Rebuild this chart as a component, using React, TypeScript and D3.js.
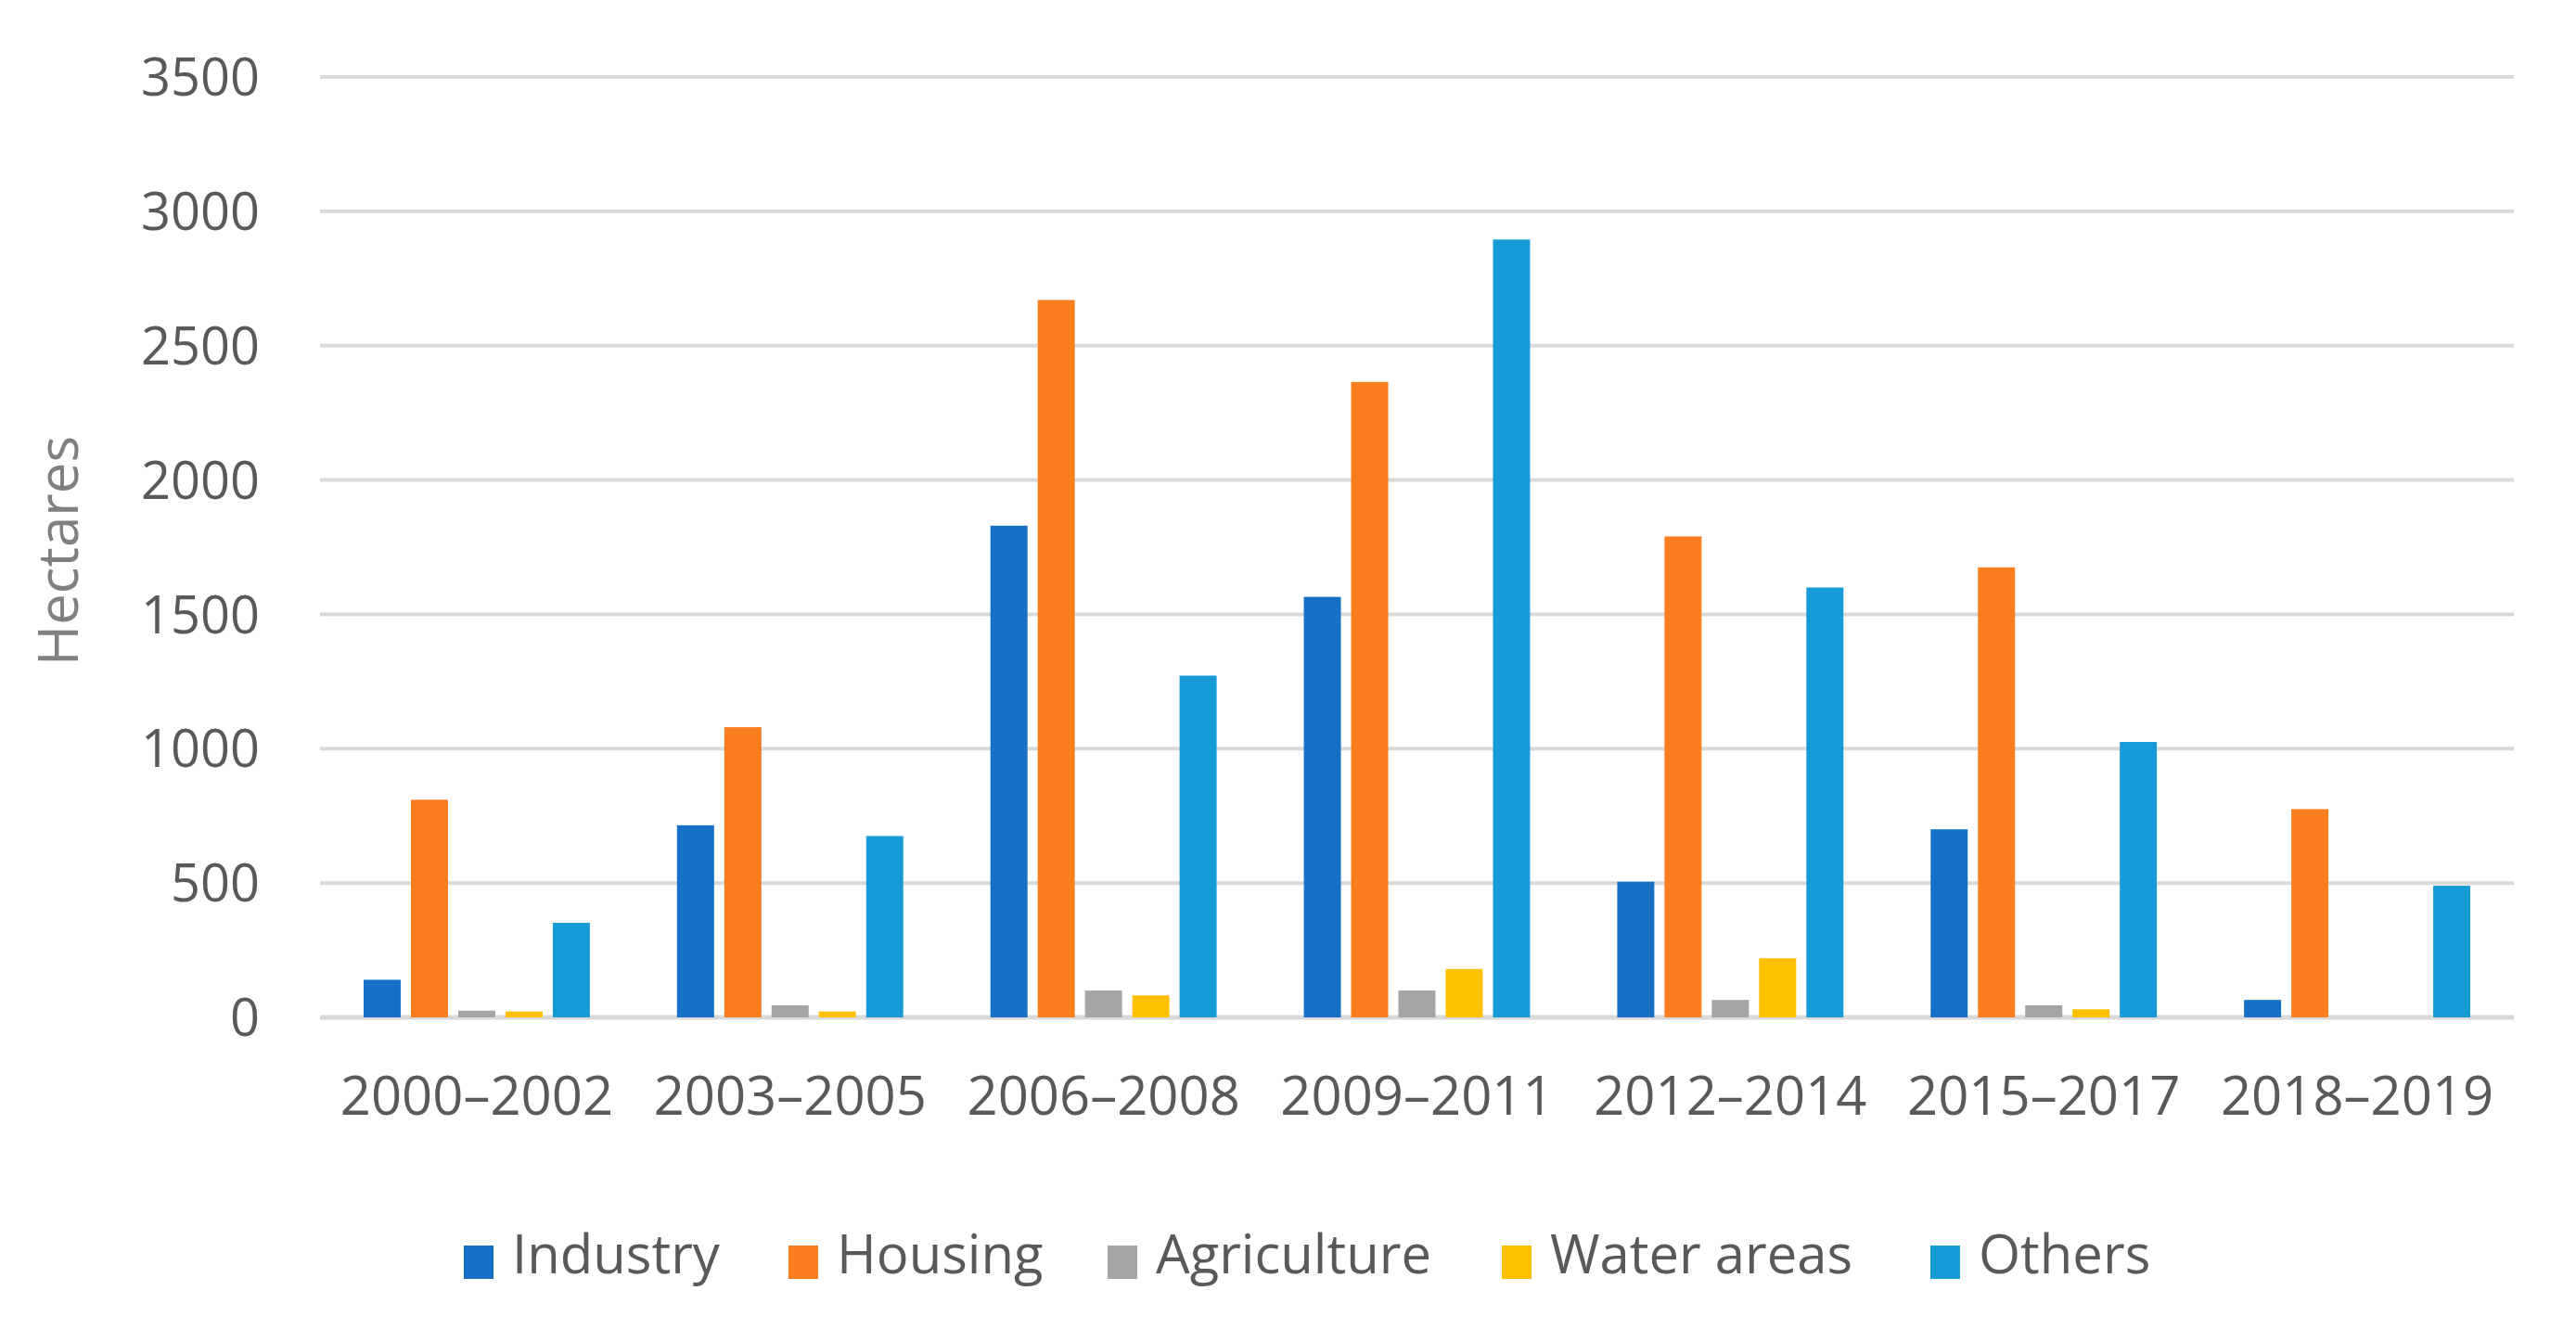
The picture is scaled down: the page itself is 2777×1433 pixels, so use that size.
import React, { useEffect } from "react";
import * as d3 from "d3";

const categories = ["2000–2002", "2003–2005", "2006–2008", "2009–2011", "2012–2014", "2015–2017", "2018–2019"];
const seriesNames = ["Industry", "Housing", "Agriculture", "Water areas", "Others"];
const industry = [140, 715, 1830, 1565, 505, 700, 65];
const housing = [810, 1080, 2670, 2365, 1790, 1675, 775];
const agriculture = [25, 45, 100, 100, 65, 45, 0];
const waterAreas = [22, 22, 82, 180, 220, 30, 0];
const others = [352, 675, 1272, 2895, 1600, 1025, 490];
const yTicks = [0, 500, 1000, 1500, 2000, 2500, 3000, 3500];
const seriesColors = ["#1570C6", "#FA7D1E", "#A5A5A5", "#FFC000", "#179BD7"];

const seriesValues = [industry, housing, agriculture, waterAreas, others];

const W = 2777;
const H = 1433;
const plotLeft = 345;
const plotRight = 2710;
const plotTop = 83;
const plotBottom = 1097;
const legendX = [500, 850, 1194, 1619, 2081];
const FONT = "'Open Sans', 'Noto Sans', sans-serif";

export default function App() {
  useEffect(() => {
    document.body.style.margin = "0";
    document.body.style.overflow = "hidden";
  }, []);

  const x0 = d3.scaleBand<string>().domain(categories).range([plotLeft, plotRight]).paddingInner(0.2456).paddingOuter(0.1228);
  const x1 = d3.scaleBand<string>().domain(seriesNames).range([0, x0.bandwidth()]).paddingInner(0.216).paddingOuter(0.108);
  const y = d3.scaleLinear().domain([0, 3500]).range([plotBottom, plotTop]);

  return (
    <svg width={W} height={H} style={{ display: "block", background: "#ffffff" }} fontFamily={FONT}>
      <rect x={0} y={0} width={W} height={H} fill="#ffffff" />
      {/* gridlines */}
      {yTicks.map((t) => (
        <line key={"g" + t} x1={plotLeft} x2={plotRight} y1={y(t)} y2={y(t)} stroke="#D9D9D9" strokeWidth={t === 0 ? 5 : 4} />
      ))}
      {/* y tick labels */}
      {yTicks.map((t) => (
        <text key={"yl" + t} x={280} y={y(t)} dy="0.36em" textAnchor="end" fontSize={56} fill="#595959">
          {t}
        </text>
      ))}
      {/* y axis title */}
      <text transform={`translate(62, ${(plotTop + plotBottom) / 2 + 4}) rotate(-90)`} textAnchor="middle" dy="0.36em" fontSize={60} fill="#808080">
        Hectares
      </text>
      {/* bars */}
      {categories.map((c, ci) => (
        <g key={c} transform={`translate(${x0(c)},0)`}>
          {seriesNames.map((s, si) => {
            const v = seriesValues[si][ci];
            if (!v) return null;
            return <rect key={s} x={x1(s)} y={y(v)} width={x1.bandwidth()} height={y(0) - y(v)} fill={seriesColors[si]} />;
          })}
        </g>
      ))}
      {/* x labels */}
      {categories.map((c) => (
        <text key={"xl" + c} x={(x0(c) as number) + x0.bandwidth() / 2} y={1202} textAnchor="middle" fontSize={58} fill="#595959">
          {c}
        </text>
      ))}
      {/* legend */}
      {seriesNames.map((s, si) => (
        <g key={"lg" + s}>
          <rect x={legendX[si]} y={1343} width={32} height={36} fill={seriesColors[si]} />
          <text x={legendX[si] + 52} y={1373} fontSize={58} fill="#595959">
            {s}
          </text>
        </g>
      ))}
    </svg>
  );
}
